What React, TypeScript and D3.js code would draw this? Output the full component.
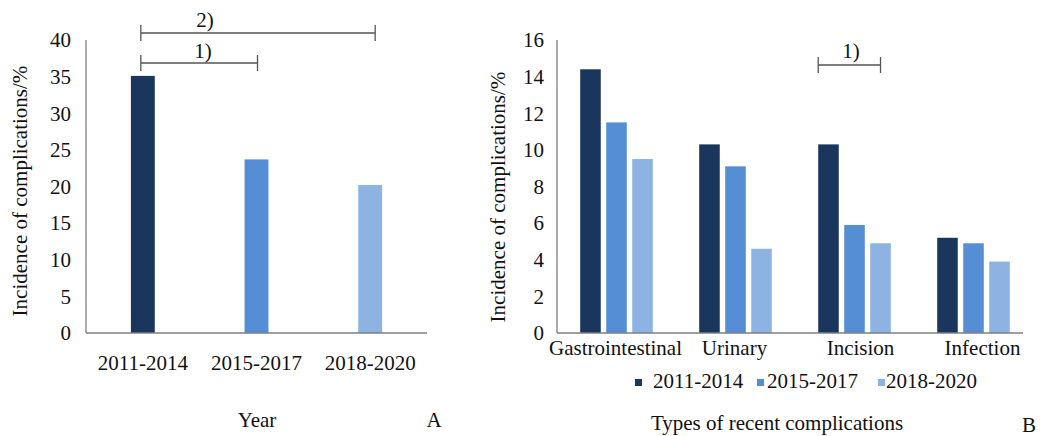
import React from "react";
import * as d3 from "d3";

const yearCats = ["2011-2014", "2015-2017", "2018-2020"];
const yearValues = [35.1, 23.7, 20.2];
const yTicksA = [0, 5, 10, 15, 20, 25, 30, 35, 40];

const typeCats = ["Gastrointestinal", "Urinary", "Incision", "Infection"];
const series = ["2011-2014", "2015-2017", "2018-2020"];
const s2011 = [14.4, 10.3, 10.3, 5.2];
const s2015 = [11.5, 9.1, 5.9, 4.9];
const s2018 = [9.5, 4.6, 4.9, 3.9];
const yTicksB = [0, 2, 4, 6, 8, 10, 12, 14, 16];

const colors = ["#1b365d", "#558ed5", "#8db3e2"];
const FONT = "'Liberation Serif', 'Times New Roman', serif";
const TXT = "#111";
const AX = "#7f7f7f";

export default function App() {
  // Panel A
  const yA = d3.scaleLinear().domain([0, 40]).range([333, 40]);
  const xA = d3.scaleBand<string>().domain(yearCats).range([86, 427]).paddingInner(0.79).paddingOuter(0.395);
  const cA = (c: string) => (xA(c) as number) + xA.bandwidth() / 2;

  // Panel B
  const yB = d3.scaleLinear().domain([0, 16]).range([333, 40]);
  const xB = d3.scaleBand<string>().domain(typeCats).range([557, 1033]).paddingInner(0.39).paddingOuter(0.195);
  const xSub = d3.scaleBand<string>().domain(series).range([0, xB.bandwidth()]).paddingInner(0.21);
  const valsB = [s2011, s2015, s2018];

  const incX0 = (xB("Incision") as number) + (xSub("2011-2014") as number);
  const incX1 = (xB("Incision") as number) + (xSub("2018-2020") as number) + xSub.bandwidth() / 2;

  const legendSq = [635, 757, 878];
  const legendTx = [653, 767, 886];

  const ts = { fontFamily: FONT };

  const bracket = (x0: number, x1: number, y: number, label: string, lx: number, ly: number, key: string) => (
    <g key={key} stroke="#555" strokeWidth={1.3}>
      <line x1={x0} x2={x1} y1={y} y2={y} />
      <line x1={x0} x2={x0} y1={y - 8} y2={y + 8} />
      <line x1={x1} x2={x1} y1={y - 8} y2={y + 8} />
      <text x={lx} y={ly} stroke="none" fill={TXT} fontSize={21} textAnchor="middle" style={ts}>{label}</text>
    </g>
  );

  return (
    <svg width={1041} height={436} style={{ position: "absolute", left: 0, top: 0, background: "#fff", fontFamily: FONT }}>
      {/* ---------- Panel A ---------- */}
      <line x1={86} x2={86} y1={40} y2={333} stroke={AX} strokeWidth={1.3} />
      {yTicksA.map((t) => (
        <text key={"ya" + t} x={71} y={yA(t)} dy="0.35em" textAnchor="end" fontSize={21} fill={TXT} style={ts}>{t}</text>
      ))}
      {yearCats.map((c, i) => (
        <rect key={"ba" + c} x={xA(c)} y={yA(yearValues[i])} width={xA.bandwidth()} height={333 - yA(yearValues[i])} fill={colors[i]} />
      ))}
      <line x1={86} x2={427} y1={333} y2={333} stroke={AX} strokeWidth={1.5} />
      {yearCats.map((c) => (
        <text key={"xa" + c} x={cA(c)} y={370} textAnchor="middle" fontSize={21} fill={TXT} style={ts}>{c}</text>
      ))}
      <text transform="translate(27,191) rotate(-90)" textAnchor="middle" fontSize={21} fill={TXT} style={ts}>Incidence of complications/%</text>
      <text x={257} y={427} textAnchor="middle" fontSize={21} fill={TXT} style={ts}>Year</text>
      <text x={434} y={427} textAnchor="middle" fontSize={21} fill={TXT} style={ts}>A</text>
      {bracket(cA("2011-2014") - 2, cA("2015-2017") + 1, 63, "1)", 203, 58, "b1")}
      {bracket(cA("2011-2014") - 2, cA("2018-2020") + 5, 33, "2)", 205, 27, "b2")}

      {/* ---------- Panel B ---------- */}
      <line x1={557} x2={557} y1={40} y2={333} stroke={AX} strokeWidth={1.3} />
      {yTicksB.map((t) => (
        <text key={"yb" + t} x={544} y={yB(t)} dy="0.35em" textAnchor="end" fontSize={21} fill={TXT} style={ts}>{t}</text>
      ))}
      {typeCats.map((c, ci) => (
        <g key={"gb" + c} transform={`translate(${xB(c)},0)`}>
          {series.map((s, si) => (
            <rect key={s} x={xSub(s)} y={yB(valsB[si][ci])} width={xSub.bandwidth()} height={333 - yB(valsB[si][ci])} fill={colors[si]} />
          ))}
        </g>
      ))}
      <line x1={557} x2={1023} y1={333} y2={333} stroke={AX} strokeWidth={1.5} />
      {typeCats.map((c, i) => (
        <text key={"xb" + c} x={(xB(c) as number) + xB.bandwidth() / 2 + [-1, -1, 6, 9][i]} y={355} textAnchor="middle" fontSize={21} fill={TXT} style={ts}>{c}</text>
      ))}
      <text transform="translate(505,197) rotate(-90)" textAnchor="middle" fontSize={21} fill={TXT} style={ts}>Incidence of complications/%</text>
      {bracket(incX0, incX1, 65, "1)", 851, 58, "b3")}
      {series.map((s, i) => (
        <g key={"lg" + s}>
          <rect x={legendSq[i]} y={379} width={7} height={7} fill={colors[i]} />
          <text x={legendTx[i]} y={388} fontSize={21} fill={TXT} style={ts}>{s}</text>
        </g>
      ))}
      <text x={777} y={430} textAnchor="middle" fontSize={21} fill={TXT} style={ts}>Types of recent complications</text>
      <text x={1029} y={432} textAnchor="middle" fontSize={21} fill={TXT} style={ts}>B</text>
    </svg>
  );
}
